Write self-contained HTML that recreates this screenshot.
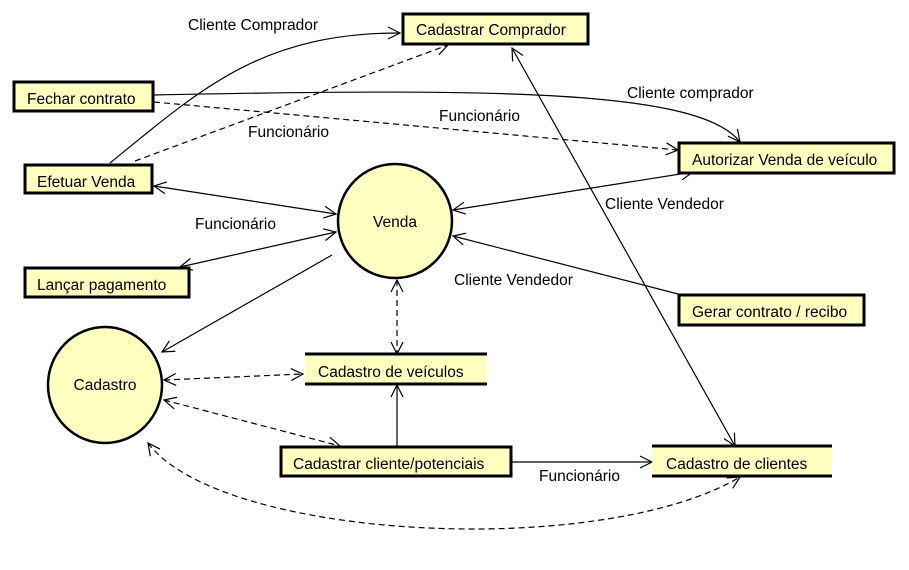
<!DOCTYPE html>
<html><head><meta charset="utf-8"><style>
body{margin:0;background:#fff}
svg{display:block;font-family:"Liberation Sans",sans-serif;font-size:15.5px}
</style></head><body>
<svg width="909" height="570" viewBox="0 0 909 570" xmlns="http://www.w3.org/2000/svg">
<defs>
<marker id="a" markerWidth="14" markerHeight="14" refX="13" refY="7" orient="auto-start-reverse" markerUnits="userSpaceOnUse">
<path d="M1,1 L13,7 L1,13" fill="none" stroke="#000" stroke-width="1.2"/>
</marker>
</defs>
<g fill="none" stroke="#000" stroke-width="1.2">
<path d="M110,163 C200,90 260,33 400,33" marker-end="url(#a)"/>
<path d="M135,161 L448,45" stroke-dasharray="6,4" marker-end="url(#a)"/>
<path d="M154,95 C500,88 700,90 740,142" marker-end="url(#a)"/>
<path d="M154,102 L678,150" stroke-dasharray="6,4" marker-end="url(#a)"/>
<path d="M154,186 L336,214" marker-start="url(#a)" marker-end="url(#a)"/>
<path d="M180,267 L336,232" marker-start="url(#a)" marker-end="url(#a)"/>
<path d="M332,255 L162,352" marker-end="url(#a)"/>
<path d="M693,172 L453,210" marker-start="url(#a)" marker-end="url(#a)"/>
<path d="M678,294 L453,236" marker-end="url(#a)"/>
<path d="M512,48 L735,446" marker-start="url(#a)" marker-end="url(#a)"/>
<path d="M397,280 L397,354" stroke-dasharray="6,4" marker-start="url(#a)" marker-end="url(#a)"/>
<path d="M164,380 L303,374" stroke-dasharray="6,4" marker-start="url(#a)" marker-end="url(#a)"/>
<path d="M164,400 L340,446" stroke-dasharray="6,4" marker-start="url(#a)" marker-end="url(#a)"/>
<path d="M397,446 L397,385" marker-end="url(#a)"/>
<path d="M512,462 L652,462" marker-end="url(#a)"/>
<path d="M148,443 C220,540 600,560 740,477" stroke-dasharray="6,4" marker-start="url(#a)" marker-end="url(#a)"/>
</g>
<g fill="#ffffc0" stroke="#000" stroke-width="3">
<rect x="403" y="14" width="185" height="30"/>
<rect x="14" y="82" width="139" height="29"/>
<rect x="25" y="165" width="127" height="28"/>
<rect x="679" y="143" width="215" height="30"/>
<rect x="25" y="268" width="164" height="29"/>
<rect x="679" y="295" width="185" height="30"/>
<rect x="281" y="447" width="230" height="29"/>
<circle cx="395" cy="221" r="57" stroke-width="2.5"/>
<ellipse cx="105" cy="385" rx="57" ry="58" stroke-width="2.5"/>
</g>
<rect x="305" y="354" width="182" height="30" fill="#ffffc0"/>
<rect x="652" y="446" width="180" height="30" fill="#ffffc0"/>
<g stroke="#000" stroke-width="3">
<line x1="305" y1="354" x2="487" y2="354"/><line x1="305" y1="384" x2="487" y2="384"/>
<line x1="652" y1="446" x2="832" y2="446"/><line x1="652" y1="476" x2="832" y2="476"/>
</g>
<g fill="#000">
<text x="416" y="35">Cadastrar Comprador</text>
<text x="27" y="104">Fechar contrato</text>
<text x="37" y="187">Efetuar Venda</text>
<text x="692" y="165">Autorizar Venda de veículo</text>
<text x="37" y="290">Lançar pagamento</text>
<text x="692" y="317">Gerar contrato / recibo</text>
<text x="293" y="469">Cadastrar cliente/potenciais</text>
<text x="318" y="377">Cadastro de veículos</text>
<text x="666" y="469">Cadastro de clientes</text>
<text x="395" y="227" text-anchor="middle">Venda</text>
<text x="105" y="390" text-anchor="middle">Cadastro</text>
<text x="188" y="30">Cliente Comprador</text>
<text x="248" y="137">Funcionário</text>
<text x="627" y="98">Cliente comprador</text>
<text x="439" y="121">Funcionário</text>
<text x="195" y="229">Funcionário</text>
<text x="605" y="209">Cliente Vendedor</text>
<text x="454" y="285">Cliente Vendedor</text>
<text x="539" y="481">Funcionário</text>
</g>
</svg>
</body></html>
